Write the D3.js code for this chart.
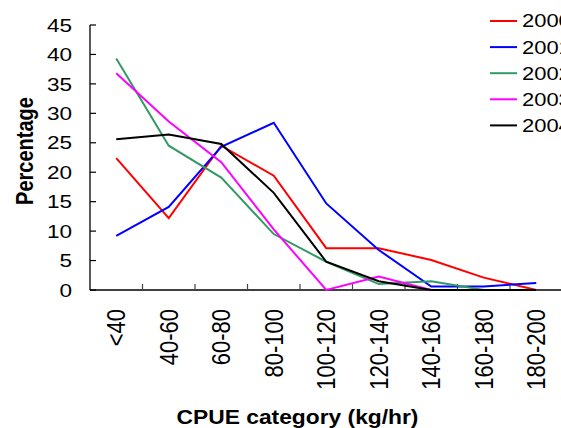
<!DOCTYPE html>
<html>
<head>
<meta charset="utf-8">
<script src="https://cdn.jsdelivr.net/npm/d3@7/dist/d3.min.js"></script>
<style>
  html, body { margin: 0; padding: 0; background: #fff; }
  svg { display: block; font-family: "Liberation Sans", Arial, sans-serif; }
</style>
</head>
<body>
<svg id="chart" width="561" height="428"></svg>
<script>
// CPUE category share by year
const categories = ['<40', '40-60', '60-80', '80-100', '100-120', '120-140', '140-160', '160-180', '180-200'];
const years = ['2000', '2001', '2002', '2003', '2004'];
const colors = ['#ff0000', '#0000ff', '#339966', '#ff00ff', '#000000'];
const yTicks = [0, 5, 10, 15, 20, 25, 30, 35, 40, 45];

const s2000 = [22.4, 12.2, 24.5, 19.4, 7.1, 7.1, 5.1, 2.1, 0];
const s2001 = [9.2, 14.1, 24.3, 28.4, 14.7, 6.8, 0.6, 0.6, 1.2];
const s2002 = [39.3, 24.5, 19.1, 9.5, 4.8, 1.0, 1.5, 0, 0];
const s2003 = [36.8, 28.6, 21.7, 10.3, 0, 2.3, 0, 0, 0];
const s2004 = [25.6, 26.4, 24.8, 16.5, 4.8, 1.5, 0, 0, 0];
const seriesValues = [s2000, s2001, s2002, s2003, s2004];

const svg = d3.select('#chart');
const plotL = 90, plotR = 562.5, plotT = 25, plotB = 290;
const sx = 1.22; // text in the source is a bit wide

const x = d3.scaleBand().domain(categories).range([plotL, plotR]).padding(0);
const y = d3.scaleLinear().domain([0, 45]).range([plotB, plotT]);

// axes
const axisColor = '#000';
svg.append('line').attr('x1', plotL).attr('x2', plotL).attr('y1', plotT).attr('y2', plotB)
  .attr('stroke', axisColor).attr('stroke-width', 1.3);
svg.append('line').attr('x1', plotL).attr('x2', plotR).attr('y1', plotB).attr('y2', plotB)
  .attr('stroke', axisColor).attr('stroke-width', 1.3);

svg.append('g').selectAll('line').data(yTicks).join('line')
  .attr('x1', plotL).attr('x2', plotL + 6)
  .attr('y1', d => y(d)).attr('y2', d => y(d))
  .attr('stroke', axisColor).attr('stroke-width', 1.2);

svg.append('g').selectAll('text').data(yTicks).join('text')
  .attr('transform', d => `translate(72,${y(d)}) scale(${sx},1)`)
  .attr('text-anchor', 'end').attr('dy', '0.36em')
  .attr('font-size', 18.5).attr('fill', '#000')
  .text(d => d);

// x ticks sit on the category boundaries
svg.append('g').selectAll('line').data(categories.slice(1)).join('line')
  .attr('x1', d => x(d)).attr('x2', d => x(d))
  .attr('y1', plotB).attr('y2', plotB - 6)
  .attr('stroke', '#444').attr('stroke-width', 1.2);

svg.append('g').selectAll('text').data(categories).join('text')
  .attr('transform', d => `translate(${x(d) + x.bandwidth() / 2},309) scale(1.14,1) rotate(-90)`)
  .attr('text-anchor', 'end').attr('dy', '0.36em')
  .attr('font-size', 22).attr('fill', '#000')
  .text(d => d);

// titles
svg.append('text')
  .attr('transform', `translate(24,151) scale(${sx},1) rotate(-90)`)
  .attr('text-anchor', 'middle').attr('dy', '0.36em')
  .attr('font-size', 20).attr('font-weight', 'bold')
  .text('Percentage');

svg.append('text')
  .attr('transform', `translate(297.5,424) scale(1.14,1)`)
  .attr('text-anchor', 'middle')
  .attr('font-size', 20).attr('font-weight', 'bold')
  .text('CPUE category (kg/hr)');

// lines
const line = d3.line()
  .x((d, i) => x(categories[i]) + x.bandwidth() / 2)
  .y(d => y(d));

svg.append('g').selectAll('path').data(seriesValues).join('path')
  .attr('d', d => line(d))
  .attr('fill', 'none')
  .attr('stroke', (d, i) => colors[i])
  .attr('stroke-width', 2)
  .attr('stroke-linejoin', 'miter');

// legend
const lg = svg.append('g').selectAll('g').data(years).join('g')
  .attr('transform', (d, i) => `translate(490,${21 + i * 26.1})`);
lg.append('line').attr('x1', 0).attr('x2', 27)
  .attr('stroke', (d, i) => colors[i]).attr('stroke-width', 2);
lg.append('text')
  .attr('transform', `translate(32,0) scale(${sx},1)`)
  .attr('dy', '0.36em').attr('font-size', 18).attr('fill', '#000')
  .text(d => d);
</script>
</body>
</html>
